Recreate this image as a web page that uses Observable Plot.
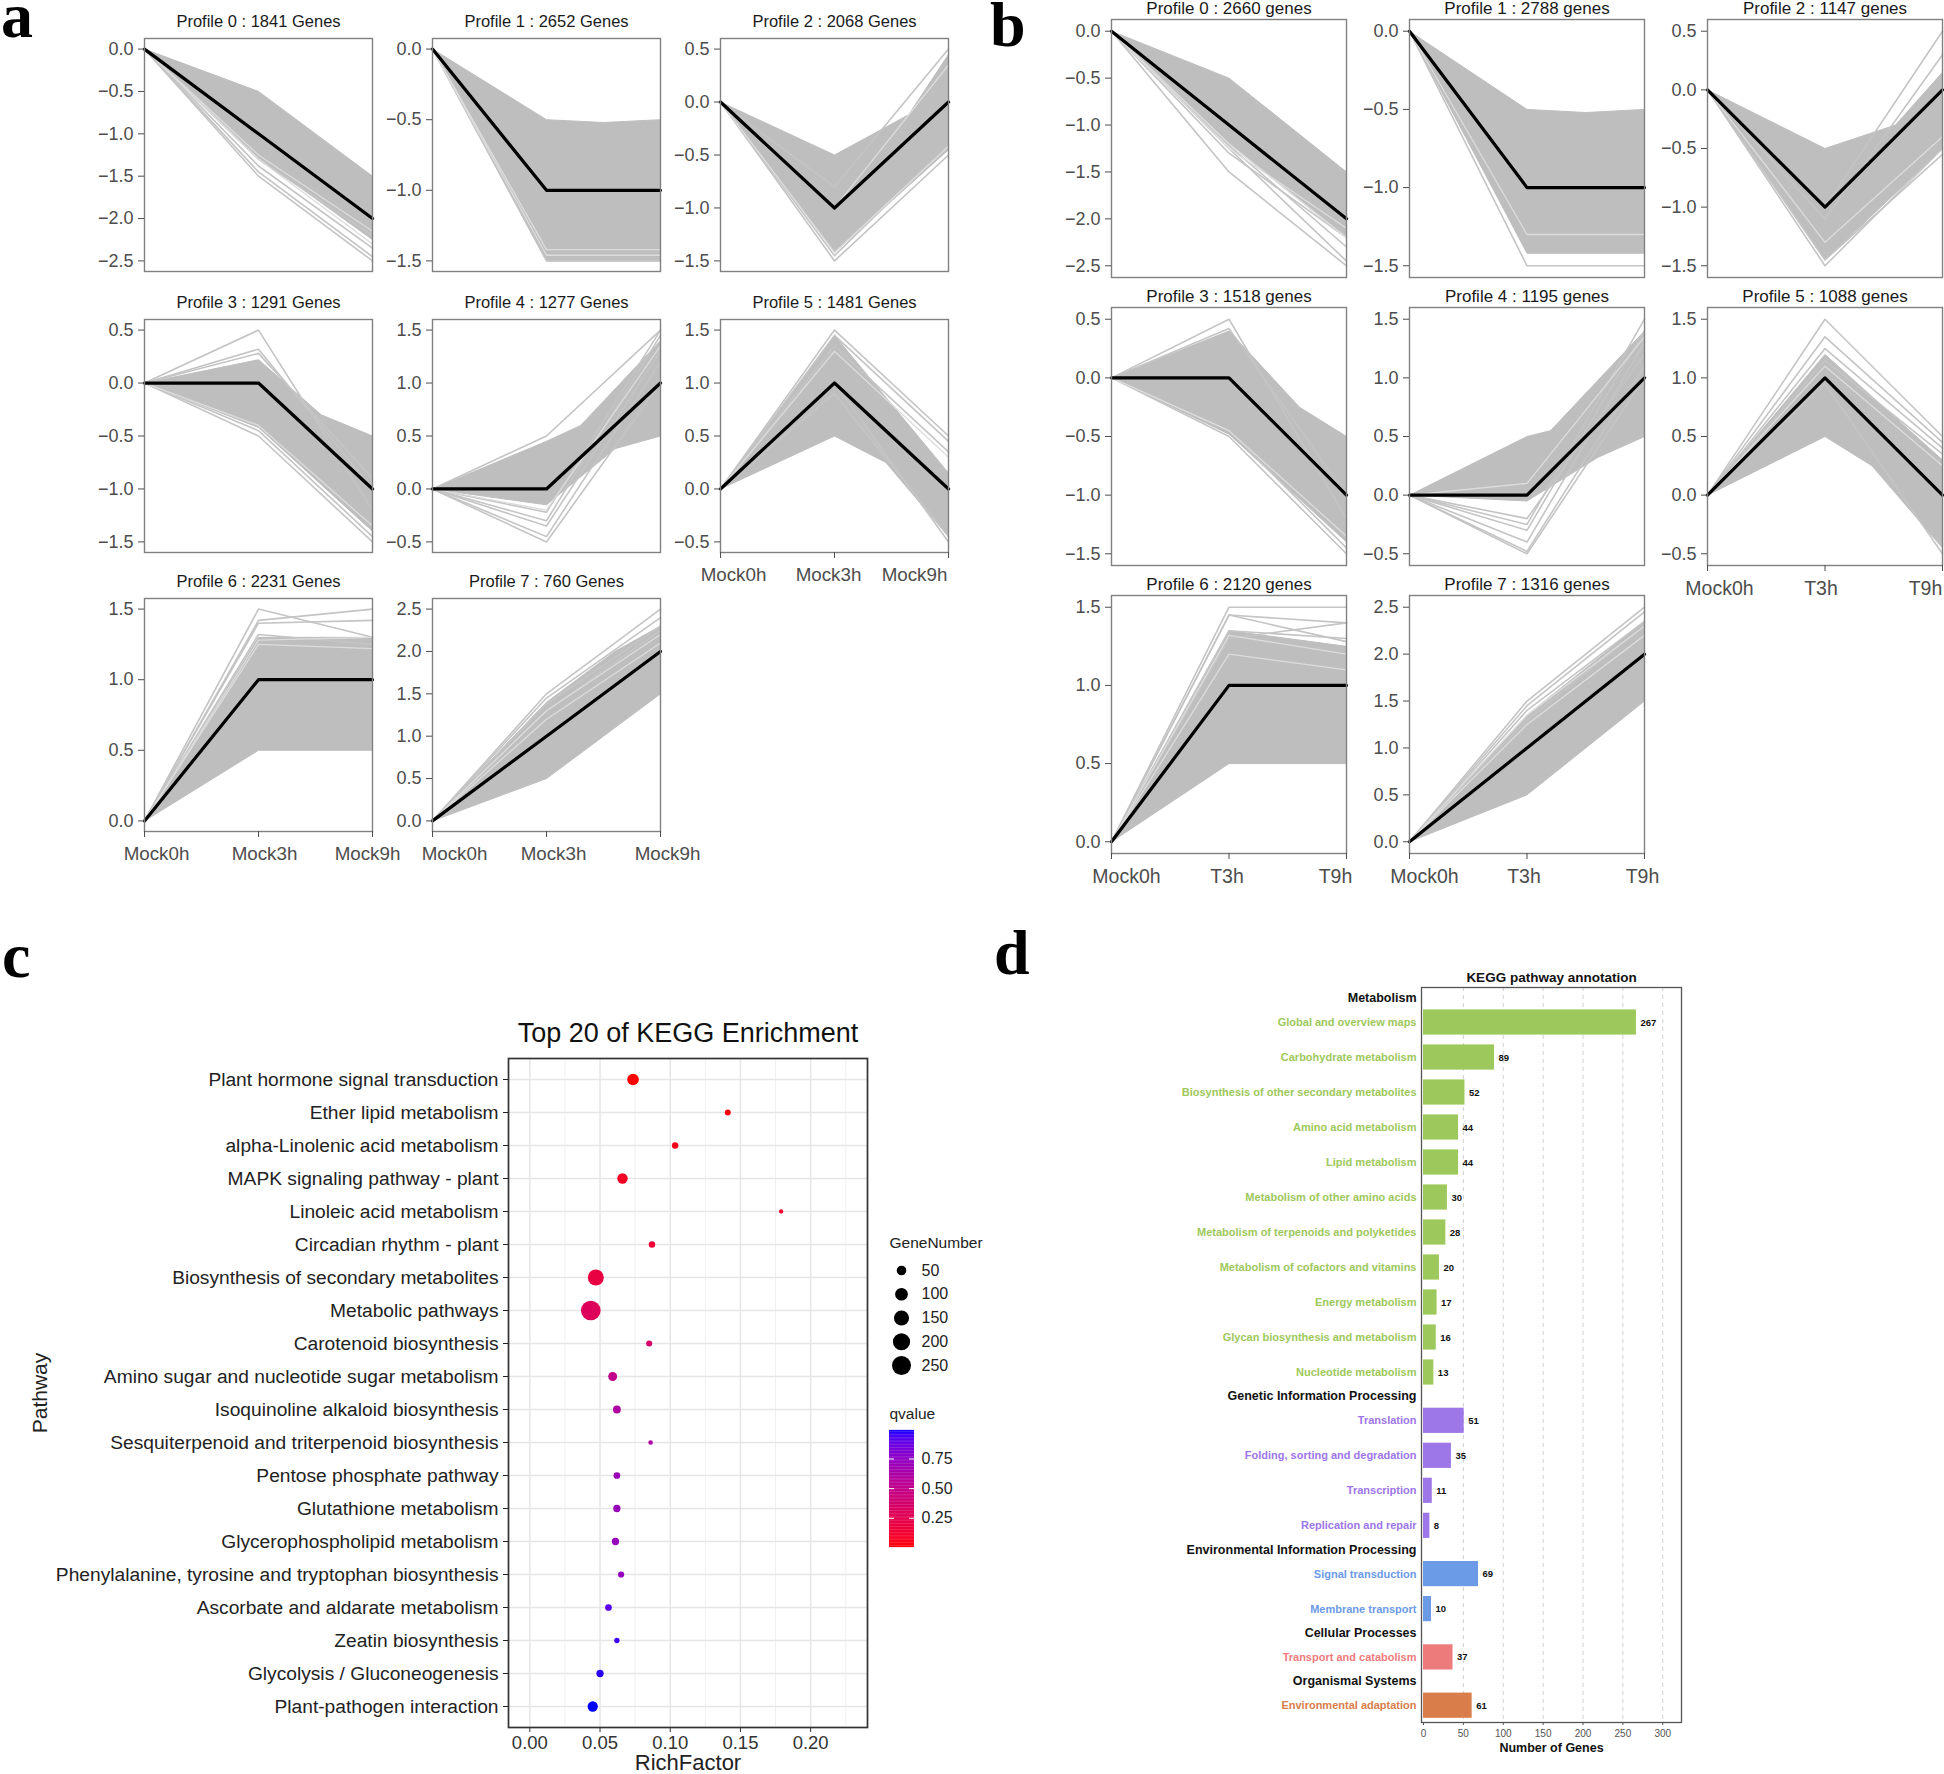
<!DOCTYPE html>
<html><head><meta charset="utf-8">
<script src="https://cdn.jsdelivr.net/npm/d3@7"></script>
<script src="https://cdn.jsdelivr.net/npm/@observablehq/plot@0.6"></script>
<style>
html,body{margin:0;padding:0;background:#fff;}
body{width:1944px;height:1774px;position:relative;overflow:hidden;font-family:"Liberation Sans",Arial,sans-serif;}
#root{position:absolute;left:0;top:0;width:1944px;height:1774px;}
.plab{position:absolute;font-family:"Liberation Serif","Times New Roman",serif;font-weight:bold;font-size:64px;line-height:30px;color:#000;}
</style></head><body>
<div id="root"></div>
<script>
// ---------------- Panel a / b data ----------------
const timesA = ["Mock0h","Mock3h","Mock9h"];
const timesB = ["Mock0h","T3h","T9h"];
const genesA = [1841,2652,2068,1291,1277,1481,2231,760];
const genesB = [2660,2788,1147,1518,1195,1088,2120,1316];
const meanProfiles = [[0,-1,-2],[0,-1,-1],[0,-1,0],[0,0,-1],[0,0,1],[0,1,0],[0,1,1],[0,1,2]];
const yRanges = [[-2.5,0],[-1.5,0],[-1.5,0.5],[-1.5,0.5],[-0.5,1.5],[-0.5,1.5],[0,1.5],[0,2.5]];
// gene-cloud outline per profile: [time index, value]
const bandA = [
  [[0,0],[1,-0.5],[2,-1.5],[2,-2.25],[1,-1.28],[0,0]],
  [[0,0],[1,-0.5],[1.5,-0.52],[2,-0.5],[2,-1.5],[1,-1.5],[0,0]],
  [[0,0],[1,-0.5],[1.65,-0.12],[2,0.45],[2,-0.45],[1,-1.42],[0,0]],
  [[0,0],[1,0.22],[1.55,-0.3],[2,-0.5],[2,-1.4],[1,-0.42],[0,0]],
  [[0,0],[1,0.45],[1.3,0.6],[2,1.4],[2,0.5],[1.6,0.38],[1,-0.15],[0,0]],
  [[0,0],[1,1.45],[2,0.15],[2,-0.45],[1.45,0.25],[1,0.5],[0,0]],
  [[0,0],[1,1.3],[2,1.3],[2,0.5],[1,0.5],[0,0]],
  [[0,0],[1,1.4],[1.6,2.0],[2,2.3],[2,1.5],[1,0.5],[0,0]]
];
const linesA = [
  [[0,-1.5,-2.5],[0,-1.45,-2.45],[0,-1.38,-2.35],[0,-1.3,-2.2]],
  [[0,-1.5,-1.5]],
  [[0,-1.5,-0.5],[0,-1.45,-0.4],[0,-0.8,0.5]],
  [[0,0.5,-1.2],[0,0.32,-1.0],[0,0.28,-0.9],[0,-0.5,-1.5],[0,-0.45,-1.45]],
  [[0,-0.5,1.0],[0,-0.45,1.2],[0,-0.35,1.3],[0,-0.3,1.45],[0,-0.22,1.5],[0,0.5,1.5]],
  [[0,1.5,0.5],[0,1.45,0.45],[0,1.35,0.35],[0,1.0,-0.5],[0,0.9,-0.45]],
  [[0,1.5,1.3],[0,1.42,1.5],[0,1.4,1.42],[0,1.32,1.25]],
  [[0,1.5,2.5],[0,1.45,2.4],[0,1.38,2.3],[0,1.3,2.25]]
];
const liteA = [
  [[0,-1.3,-2.3],[0,-1.25,-2.15]],
  [[0,-1.42,-1.42],[0,-1.46,-1.46]],
  [[0,-1.42,-0.42],[0,-1.0,0.35]],
  [[0,-0.4,-1.35]],
  [[0,-0.2,1.35]],
  [[0,1.3,0.3]],
  [[0,1.25,1.22],[0,1.28,1.3]],
  [[0,1.3,2.2],[0,1.2,2.1]]
];
const bandB = [
  [[0,0],[1,-0.5],[2,-1.5],[2,-2.2],[1,-1.2],[0,0]],
  [[0,0],[1,-0.5],[1.5,-0.52],[2,-0.5],[2,-1.42],[1,-1.42],[0,0]],
  [[0,0],[1,-0.5],[1.6,-0.3],[2,0.15],[2,-0.5],[1,-1.45],[0,0]],
  [[0,0],[1,0.4],[1.6,-0.25],[2,-0.5],[2,-1.4],[1,-0.48],[0,0]],
  [[0,0],[1,0.5],[1.2,0.55],[2,1.4],[2,0.5],[1.6,0.32],[1,-0.05],[0,0]],
  [[0,0],[1,1.2],[2,0.3],[2,-0.45],[1.4,0.25],[1,0.5],[0,0]],
  [[0,0],[1,1.35],[2,1.25],[2,0.5],[1,0.5],[0,0]],
  [[0,0],[1,1.35],[2,2.35],[2,1.5],[1,0.5],[0,0]]
];
const linesB = [
  [[0,-1.5,-2.5],[0,-1.25,-2.45],[0,-1.22,-2.3],[0,-1.3,-2.2]],
  [[0,-1.5,-1.5]],
  [[0,-1.5,-0.5],[0,-1.45,-0.55],[0,-1.0,0.5],[0,-1.1,0.3]],
  [[0,0.5,-1.2],[0,0.42,-1.0],[0,-0.5,-1.5],[0,-0.45,-1.45]],
  [[0,-0.5,1.0],[0,-0.48,1.1],[0,-0.4,1.3],[0,-0.3,1.4],[0,-0.25,1.5],[0,-0.2,1.2]],
  [[0,1.5,0.5],[0,1.35,0.45],[0,1.25,0.4],[0,1.15,0.35],[0,0.95,-0.5]],
  [[0,1.5,1.5],[0,1.45,1.4],[0,1.45,1.28],[0,1.35,1.3],[0,1.3,1.4]],
  [[0,1.5,2.5],[0,1.45,2.45],[0,1.4,2.35],[0,1.3,2.3]]
];
const liteB = [
  [[0,-1.2,-2.2],[0,-1.25,-2.1]],
  [[0,-1.3,-1.3]],
  [[0,-1.3,-0.4]],
  [[0,-0.45,-1.35]],
  [[0,0.1,1.35]],
  [[0,1.1,0.25]],
  [[0,1.32,1.2],[0,1.2,1.1]],
  [[0,1.35,2.3],[0,1.25,2.2]]
];

// ---------------- Panel c data ----------------
const pathways = ["Plant hormone signal transduction","Ether lipid metabolism","alpha-Linolenic acid metabolism","MAPK signaling pathway - plant","Linoleic acid metabolism","Circadian rhythm - plant","Biosynthesis of secondary metabolites","Metabolic pathways","Carotenoid biosynthesis","Amino sugar and nucleotide sugar metabolism","Isoquinoline alkaloid biosynthesis","Sesquiterpenoid and triterpenoid biosynthesis","Pentose phosphate pathway","Glutathione metabolism","Glycerophospholipid metabolism","Phenylalanine, tyrosine and tryptophan biosynthesis","Ascorbate and aldarate metabolism","Zeatin biosynthesis","Glycolysis / Gluconeogenesis","Plant-pathogen interaction"];
const richFactor = [0.0735,0.141,0.1035,0.066,0.179,0.087,0.047,0.0434,0.085,0.059,0.062,0.086,0.062,0.062,0.061,0.065,0.056,0.062,0.050,0.0448];
const geneNumber = [80,14,18,62,5,18,170,270,15,42,30,6,20,25,25,16,20,10,25,60];
const qvalue = [0.004,0.03,0.06,0.09,0.12,0.15,0.2,0.3,0.36,0.5,0.6,0.62,0.7,0.71,0.72,0.73,0.9,0.95,0.97,0.99];
const sizeBreaks = [50,100,150,200,250];
const qBreaks = [0.25,0.50,0.75];

// ---------------- Panel d data ----------------
const keggGroups = ["Metabolism","Genetic Information Processing","Environmental Information Processing","Cellular Processes","Organismal Systems"];
const groupColors = ["#9dc85b","#9d76e8","#6b9ae6","#ee7b7c","#d97d4a"];
const keggTerms = ["Global and overview maps","Carbohydrate metabolism","Biosynthesis of other secondary metabolites","Amino acid metabolism","Lipid metabolism","Metabolism of other amino acids","Metabolism of terpenoids and polyketides","Metabolism of cofactors and vitamins","Energy metabolism","Glycan biosynthesis and metabolism","Nucleotide metabolism","Translation","Folding, sorting and degradation","Transcription","Replication and repair","Signal transduction","Membrane transport","Transport and catabolism","Environmental adaptation"];
const keggGroupOf = [0,0,0,0,0,0,0,0,0,0,0,1,1,1,1,2,2,3,4];
const keggCounts = [267,89,52,44,44,30,28,20,17,16,13,51,35,11,8,69,10,37,61];

// ---------------- helpers ----------------
const fontSans = "'Liberation Sans', Arial, Helvetica, sans-serif";
const root = document.getElementById("root");
function place(el, left, top, w, h) {
  const div = document.createElement("div");
  div.style.cssText = `position:absolute;left:${left}px;top:${top}px;width:${w}px;height:${h}px;`;
  div.appendChild(el);
  root.appendChild(div);
}
function label(txt, left, top) {
  const d = document.createElement("div");
  d.className = "plab"; d.textContent = txt;
  d.style.left = left + "px"; d.style.top = top + "px";
  root.appendChild(d);
}
const toRows = arr => arr.flatMap((l, j) => l.map((v, i) => ({j, i, v})));

function profile(k, P) {
  const row = Math.floor(k / 3), col = k % 3;
  const range = yRanges[k];
  const pad = (range[1] - range[0]) * 0.05;
  const ml = 70, mr = 30, mt = 32, mb = 44;
  const W = P.fw + ml + mr, H = P.fh + mt + mb;
  const showX = k >= 5;
  const ticks = d3.range(range[0], range[1] + 1e-9, 0.5);
  const marks = [
    Plot.line(P.band[k], {x: d => d[0], y: d => d[1], fill: "#bebebe", stroke: "#bebebe", strokeWidth: 1}),
    Plot.line(toRows(P.lines[k]), {x: "i", y: "v", z: "j", stroke: "#c4c4c4", strokeWidth: 1.6}),
    Plot.line(toRows(P.lite[k]), {x: "i", y: "v", z: "j", stroke: "#dcdcdc", strokeWidth: 1.3}),
    Plot.line(meanProfiles[k].map((v, i) => ({i, v})), {x: "i", y: "v", stroke: "#000", strokeWidth: 3.2}),
    Plot.frame({stroke: "#808080", strokeWidth: 1.4}),
    Plot.axisY({ticks, tickFormat: d3.format(".1f"), tickSize: 6, tickPadding: 5, fontSize: P.tickSize, color: "#4d4d4d", label: null}),
    Plot.text([`Profile ${k} : ${P.genes[k]} ${P.word}`], {text: d => d, frameAnchor: "top", lineAnchor: "middle", dy: P.titleDy, fontSize: P.titleSize, fill: "#1a1a1a"})
  ];
  if (showX) {
    marks.push(Plot.axisX({ticks: [0, 1, 2], tickFormat: () => "", tickSize: 6, color: "#4d4d4d", label: null}));
    const dxs = P.xdx[k];
    [0, 1, 2].forEach(i => marks.push(Plot.text([i], {x: d => d, text: d => P.times[d], frameAnchor: "bottom", lineAnchor: "top", textAnchor: "middle", dx: dxs[i], dy: P.xLabDy, fontSize: P.xLabSize, fill: "#4d4d4d"})));
  }
  const svg = Plot.plot({
    width: W, height: H, marginLeft: ml, marginRight: mr, marginTop: mt, marginBottom: mb,
    style: {background: "transparent", overflow: "visible", fontFamily: fontSans},
    x: {domain: [0, 2], axis: showX ? undefined : null},
    y: {domain: [range[0] - pad, range[1] + pad]},
    marks
  });
  place(svg, P.left[col] - ml, P.top[row] - mt, W, H);
}

const panelA = {times: timesA, genes: genesA, word: "Genes", band: bandA, lines: linesA, lite: liteA,
  left: [144, 432, 720], top: [38, 319, 598], fw: 228, fh: 233, titleSize: 16.5, tickSize: 18, titleDy: -17,
  xLabDy: 15, xLabSize: 18.8, xdx: {5: [13, -6, -34], 6: [12, 6, -5], 7: [22, 7, 7]}};
const panelB = {times: timesB, genes: genesB, word: "genes", band: bandB, lines: linesB, lite: liteB,
  left: [1111, 1409, 1707], top: [19, 307, 595], fw: 235, fh: 258, titleSize: 17, tickSize: 18, titleDy: -11,
  xLabDy: 16, xLabSize: 19.5, xdx: {5: [12, -4, -17], 6: [15, -2, -11], 7: [15, -3, -2]}};
for (let k = 0; k < 8; k++) profile(k, panelA);
for (let k = 0; k < 8; k++) profile(k, panelB);

// ---------------- Panel c ----------------
const cData = pathways.map((name, i) => ({name, rf: richFactor[i], gene: geneNumber[i], q: qvalue[i]}));
const qExtent = d3.extent(qvalue);
const rScale = {type: "sqrt", domain: [0, 250], range: [0.95, 9.5]};
const colorScale = {type: "linear", domain: qExtent, range: ["#ff0000", "#0000ff"], interpolate: "lab"};
const majorX = [0, 0.05, 0.10, 0.15, 0.20];
const minorX = [0.025, 0.075, 0.125, 0.175, 0.225];
const cPlot = Plot.plot({
  width: 880, height: 784, marginLeft: 508, marginRight: 13, marginTop: 68, marginBottom: 47,
  style: {background: "transparent", overflow: "visible", fontFamily: fontSans},
  x: {domain: [-0.0152, 0.2405]},
  y: {type: "point", domain: pathways, padding: 0.57},
  r: rScale,
  color: colorScale,
  marks: [
    Plot.ruleX(minorX, {stroke: "#ececec", strokeWidth: 0.8}),
    Plot.ruleX(majorX, {stroke: "#e6e6e6", strokeWidth: 1.5}),
    Plot.ruleY(pathways, {stroke: "#e6e6e6", strokeWidth: 1.5}),
    Plot.dot(cData, {x: "rf", y: "name", r: "gene", fill: "q"}),
    Plot.frame({stroke: "#333", strokeWidth: 1.7}),
    Plot.axisX({ticks: majorX, tickFormat: d3.format(".2f"), tickSize: 5, tickPadding: 3, fontSize: 18.5, color: "#333", label: null}),
    Plot.axisY({tickSize: 5, tickPadding: 5, fontSize: 19.2, color: "#222", label: null}),
    Plot.text(["Top 20 of KEGG Enrichment"], {text: d => d, frameAnchor: "top", lineAnchor: "middle", textAnchor: "middle", dy: -25, fontSize: 27, fill: "#111"}),
    Plot.text(["RichFactor"], {text: d => d, frameAnchor: "bottom", lineAnchor: "middle", textAnchor: "middle", dy: 35, fontSize: 22, fill: "#222"}),
    Plot.text(["Pathway"], {text: d => d, frameAnchor: "left", lineAnchor: "middle", textAnchor: "middle", dx: -468, rotate: -90, fontSize: 21, fill: "#222"})
  ]
});
place(cPlot, 0, 990, 880, 784);

// GeneNumber legend
const sizeLegend = Plot.plot({
  width: 120, height: 160, margin: 0,
  style: {background: "transparent", overflow: "visible", fontFamily: fontSans},
  x: {type: "identity", axis: null},
  y: {type: "linear", domain: [50, 250], range: [45, 140], axis: null},
  r: rScale,
  marks: [
    Plot.dot(sizeBreaks, {x: 21, y: d => d, r: d => d, fill: "#000"}),
    Plot.text(sizeBreaks, {x: 41, y: d => d, text: d => String(d), textAnchor: "start", lineAnchor: "middle", fontSize: 16, fill: "#222"}),
    Plot.text(["GeneNumber"], {text: d => d, frameAnchor: "top-left", dx: 9, dy: 18, textAnchor: "start", lineAnchor: "middle", fontSize: 15.5, fill: "#222"})
  ]
});
place(sizeLegend, 880, 1225, 120, 160);

// qvalue colour bar
const nSlices = 80;
const qStep = (qExtent[1] - qExtent[0]) / nSlices;
const ramp = d3.range(nSlices).map(i => qExtent[0] + qStep * (i + 0.5));
const qLegend = Plot.plot({
  width: 120, height: 160, margin: 0,
  style: {background: "transparent", overflow: "visible", fontFamily: fontSans},
  x: {type: "identity", axis: null},
  y: {domain: qExtent, range: [147, 30], axis: null},
  color: colorScale,
  marks: [
    Plot.rect(ramp, {x1: 9, x2: 34, y1: d => d - qStep / 2 - 0.001, y2: d => d + qStep / 2 + 0.001, fill: d => d}),
    Plot.ruleY(qBreaks, {x1: 9, x2: 14, stroke: "#fff", strokeWidth: 1}),
    Plot.ruleY(qBreaks, {x1: 29, x2: 34, stroke: "#fff", strokeWidth: 1}),
    Plot.text(qBreaks, {x: 41, y: d => d, text: d => d3.format(".2f")(d), textAnchor: "start", lineAnchor: "middle", fontSize: 16, fill: "#222"}),
    Plot.text(["qvalue"], {text: d => d, frameAnchor: "top-left", dx: 9, dy: 14, textAnchor: "start", lineAnchor: "middle", fontSize: 15.5, fill: "#222"})
  ]
});
place(qLegend, 880, 1400, 120, 160);

// ---------------- Panel d ----------------
const groupGap = 0.38, headerOffset = 0.7, barHalf = 0.36;
const dBars = keggTerms.map((term, i) => ({term, n: keggCounts[i], g: keggGroupOf[i], pos: i + keggGroupOf[i] * groupGap, color: groupColors[keggGroupOf[i]]}));
const dHeaders = keggGroups.map((name, g) => ({name, pos: dBars.find(b => b.g === g).pos - headerOffset}));
const dPlot = Plot.plot({
  width: 944, height: 824, marginLeft: 421, marginRight: 263, marginTop: 37, marginBottom: 52,
  style: {background: "transparent", overflow: "visible", fontFamily: fontSans},
  x: {domain: [-2.5, 323.5]},
  y: {domain: [20, -1], axis: null},
  color: {type: "identity"},
  marks: [
    Plot.ruleX([50, 100, 150, 200, 250, 300], {stroke: "#cfcfcf", strokeDasharray: "4,4", strokeWidth: 1}),
    Plot.rect(dBars, {x1: 0, x2: "n", y1: d => d.pos - barHalf, y2: d => d.pos + barHalf, fill: "color"}),
    Plot.text(dBars, {x: "n", y: "pos", text: d => String(d.n), dx: 4, textAnchor: "start", lineAnchor: "middle", fontWeight: "bold", fontSize: 9.5, fill: "#111"}),
    Plot.text(dBars, {y: "pos", text: "term", frameAnchor: "left", dx: -5, textAnchor: "end", lineAnchor: "middle", fill: "color", fontWeight: "bold", fontSize: 11}),
    Plot.text(dHeaders, {y: "pos", text: "name", frameAnchor: "left", dx: -5, textAnchor: "end", lineAnchor: "middle", fill: "#111", fontWeight: "bold", fontSize: 12.5}),
    Plot.frame({stroke: "#555", strokeWidth: 1.3}),
    Plot.axisX({ticks: d3.range(0, 301, 50), tickSize: 3, tickPadding: 4, fontSize: 10, color: "#555", label: null}),
    Plot.text(["KEGG pathway annotation"], {text: d => d, frameAnchor: "top", lineAnchor: "middle", textAnchor: "middle", dy: -10, fontWeight: "bold", fontSize: 13.5, fill: "#111"}),
    Plot.text(["Number of Genes"], {text: d => d, frameAnchor: "bottom", lineAnchor: "middle", textAnchor: "middle", dy: 25, fontWeight: "bold", fontSize: 12.5, fill: "#111"})
  ]
});
place(dPlot, 1000, 950, 944, 824);

// panel letters
label("a", 1, 1);
label("b", 990, 10);
label("c", 2, 941);
label("d", 994, 938);
</script>
</body></html>
